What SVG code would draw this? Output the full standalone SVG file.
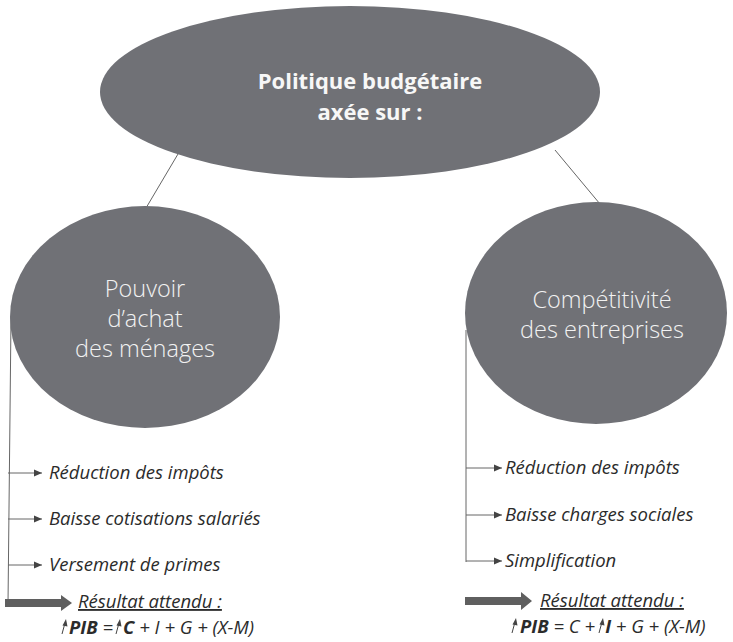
<svg xmlns="http://www.w3.org/2000/svg" width="733" height="642" viewBox="0 0 733 642">
<style>
.node{fill:#707176;}
.title{font-family:"Open Sans","Liberation Sans",sans-serif;font-weight:700;font-size:22px;fill:#f7f7f7;text-anchor:middle;}
.sub{font-family:"Open Sans","Liberation Sans",sans-serif;font-weight:300;font-size:23.5px;fill:#f2f2f2;text-anchor:middle;}
.con{stroke:#666;stroke-width:1;fill:none;}
.item{font-family:"Open Sans","Liberation Sans",sans-serif;font-style:italic;font-size:18.5px;fill:#2b2b2b;}
.res{font-family:"Open Sans","Liberation Sans",sans-serif;font-style:italic;font-size:18.5px;fill:#2b2b2b;text-decoration:underline;}
.f{font-family:"Open Sans","Liberation Sans",sans-serif;font-style:italic;font-size:18.5px;fill:#2b2b2b;}
.b{font-weight:700;}
.fat{fill:#5f5f5f;}
.up{stroke:#444;stroke-width:1;fill:none;}
.uph{fill:#444;}
</style>
<defs>
<marker id="ah" markerWidth="9" markerHeight="9" refX="8" refY="4.5" orient="auto" markerUnits="userSpaceOnUse">
<path d="M0,1 L8,4.5 L0,8 Z" fill="#444"/>
</marker>
</defs>
<g id="connectors">
<line class="con" x1="178" y1="154" x2="146" y2="208"/>
<line class="con" x1="555" y1="150" x2="600" y2="204"/>
<polyline class="con" points="11,318 8,604"/>
<line class="con" x1="8" y1="473" x2="42" y2="473" marker-end="url(#ah)"/>
<line class="con" x1="8" y1="519" x2="42" y2="519" marker-end="url(#ah)"/>
<line class="con" x1="8" y1="565" x2="42" y2="565" marker-end="url(#ah)"/>
<polyline class="con" points="466,330 466,562"/>
<line class="con" x1="466" y1="468" x2="502" y2="468" marker-end="url(#ah)"/>
<line class="con" x1="466" y1="515" x2="502" y2="515" marker-end="url(#ah)"/>
<line class="con" x1="466" y1="561" x2="502" y2="561" marker-end="url(#ah)"/>
<polygon class="fat" points="5,599 61,599 61,595 72,603 61,611 61,607 5,607"/>
<polygon class="fat" points="465,597 521,597 521,592 532,601 521,610 521,605 465,605"/>
</g>
<g id="root">
<ellipse class="node" cx="350" cy="92" rx="250" ry="86"/>
<text class="title" x="370" y="89">Politique budgétaire</text>
<text class="title" x="370" y="120">axée sur :</text>
</g>
<g id="pouvoir">
<ellipse class="node" cx="145" cy="317" rx="135" ry="111"/>
<text class="sub" x="145" y="297">Pouvoir</text>
<text class="sub" x="145" y="327">d’achat</text>
<text class="sub" x="145" y="357">des ménages</text>
</g>
<g id="competitivite">
<ellipse class="node" cx="596" cy="313" rx="131" ry="111"/>
<text class="sub" x="602" y="308">Compétitivité</text>
<text class="sub" x="602" y="338">des entreprises</text>
</g>
<g id="left-items">
<text class="item" x="49" y="479">Réduction des impôts</text>
<text class="item" x="49" y="525">Baisse cotisations salariés</text>
<text class="item" x="49" y="571">Versement de primes</text>
<text class="res" x="78" y="608">Résultat attendu :</text>
<path class="up" d="M62,634 L65,623"/><path class="uph" d="M62.5,625.5 L66,619 L67.5,626.5 Z"/>
<text class="f" x="69" y="634"><tspan class="b">PIB</tspan> =<tspan class="b" dx="10">C</tspan> + I + G + (X-M)</text>
<path class="up" d="M116,634 L119,623"/><path class="uph" d="M116.5,625.5 L120,619 L121.5,626.5 Z"/>
</g>
<g id="right-items">
<text class="item" x="505" y="474">Réduction des impôts</text>
<text class="item" x="505" y="521">Baisse charges sociales</text>
<text class="item" x="505" y="567">Simplification</text>
<text class="res" x="540" y="607">Résultat attendu :</text>
<path class="up" d="M512,633 L515,622"/><path class="uph" d="M512.5,624.5 L516,618 L517.5,625.5 Z"/>
<text class="f" x="520" y="633"><tspan class="b">PIB</tspan> = C +<tspan class="b" dx="10">I</tspan> + G + (X-M)</text>
<path class="up" d="M599,633 L602,622"/><path class="uph" d="M599.5,624.5 L603,618 L604.5,625.5 Z"/>
</g>
</svg>
